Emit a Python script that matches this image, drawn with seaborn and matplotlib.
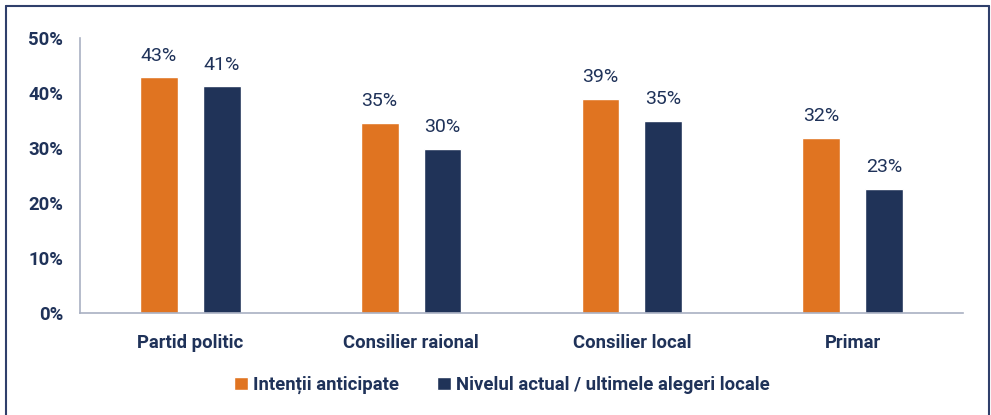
import matplotlib
matplotlib.use("Agg")
import matplotlib.pyplot as plt
import seaborn as sns
import pandas as pd
import numpy as np
from matplotlib.lines import Line2D
from matplotlib.patches import Patch

categories = ["Partid politic", "Consilier raional", "Consilier local", "Primar"]
series_names = ["Intenții anticipate", "Nivelul actual / ultimele alegeri locale"]
intentii = [42.9, 34.6, 39.0, 31.9]
nivelul = [41.2, 29.9, 35.0, 22.6]
labels_intentii = ["43%", "35%", "39%", "32%"]
labels_nivelul = ["41%", "30%", "35%", "23%"]

orange = "#E07421"
navy = "#203358"
text_col = "#1F3259"
axis_col = "#A9B0C2"

df = pd.DataFrame({
    "cat": categories * 2,
    "serie": [series_names[0]] * 4 + [series_names[1]] * 4,
    "val": intentii + nivelul,
    "lab": labels_intentii + labels_nivelul,
})

sns.set_style("white")
plt.rcParams["font.family"] = ["Roboto", "DejaVu Sans"]
fs = 13.3
fw = "semibold"

fig = plt.figure(figsize=(9.91, 4.15), dpi=100)
ax = fig.add_axes([80 / 991, 1 - 313 / 415, (963 - 80) / 991, (313 - 38) / 415])

sns.barplot(data=df, x="cat", y="val", hue="serie", hue_order=series_names,
            palette=[orange, navy], width=0.57, gap=0.4, ax=ax, legend=False,
            saturation=1)

ax.set_ylim(0, 50)
ax.set_xlim(-0.5, 3.5)
ax.set_yticks(np.arange(0, 51, 10))
ax.set_yticklabels([f"{v}%" for v in range(0, 51, 10)], fontsize=fs,
                   color=text_col, fontweight=fw)
ax.set_xticks(np.arange(4))
ax.set_xticklabels(categories, fontsize=fs, color=text_col, fontweight=fw)
ax.tick_params(axis="x", length=0, pad=15)
ax.tick_params(axis="y", length=6, color=axis_col, width=1.2, pad=6)
# boundary ticks on the category axis
ax.set_xticks(np.arange(-0.5, 4, 1), minor=True)
ax.tick_params(axis="x", which="minor", length=6, color=axis_col, width=1.2)
ax.set_xlabel("")
ax.set_ylabel("")
for s in ["top", "right"]:
    ax.spines[s].set_visible(False)
for s in ["left", "bottom"]:
    ax.spines[s].set_color(axis_col)
    ax.spines[s].set_linewidth(1.2)

for cont, labs in zip(ax.containers, [labels_intentii, labels_nivelul]):
    ax.bar_label(cont, labels=labs, padding=9, fontsize=14, color=text_col,
                 fontweight="normal")

handles = [Patch(facecolor=orange), Patch(facecolor=navy)]
fig.legend(handles, series_names, loc="center", bbox_to_anchor=(502 / 991, 1 - 385 / 415),
           ncol=2, frameon=False, handlelength=0.75, handleheight=0.75,
           handletextpad=0.3, columnspacing=2.05,
           prop={"size": fs, "weight": fw})
for t in fig.legends[0].get_texts():
    t.set_color(text_col)

# frame around the chart
fc = "#2F3F6B"
fig.add_artist(Line2D([6 / 991, 6 / 991], [0, 1 - 6 / 415], color=fc, lw=1.5))
fig.add_artist(Line2D([6 / 991, 989 / 991], [1 - 6 / 415, 1 - 6 / 415], color=fc, lw=1.5))
fig.add_artist(Line2D([989 / 991, 989 / 991], [0, 1 - 6 / 415], color=fc, lw=1.5))

fig.savefig("out.png", dpi=100)
